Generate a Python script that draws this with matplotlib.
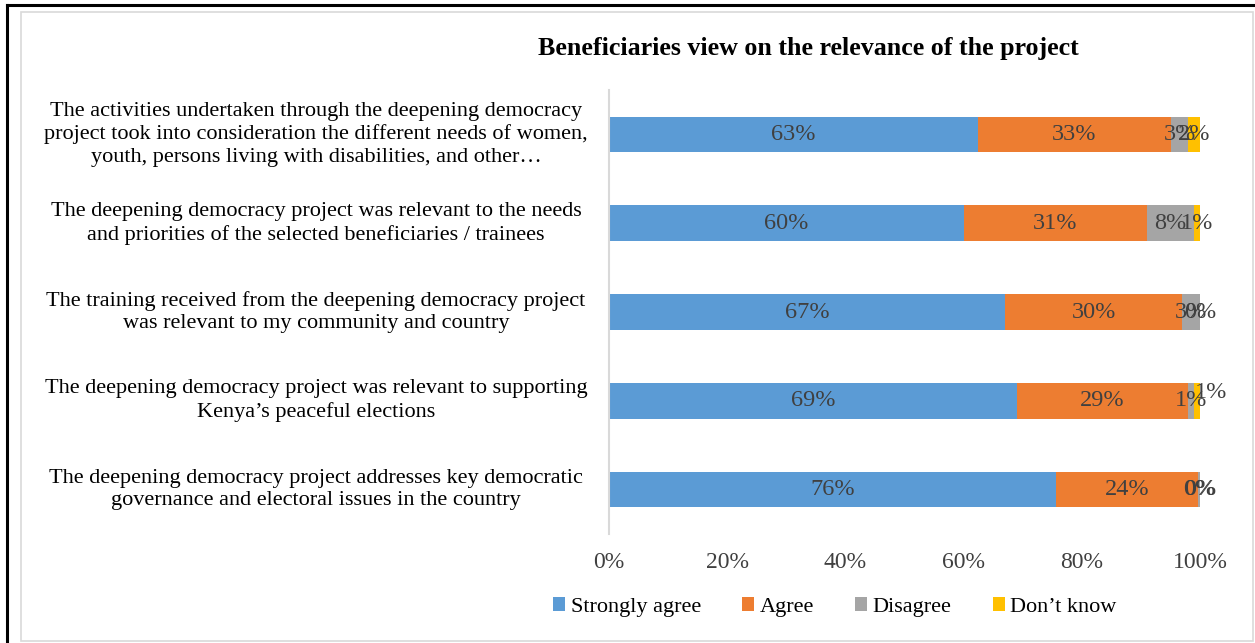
import matplotlib
matplotlib.use("Agg")
import matplotlib.pyplot as plt
from matplotlib.patches import Patch, Rectangle
from matplotlib.lines import Line2D
from matplotlib.transforms import blended_transform_factory

plt.rcParams['font.family'] = ['Liberation Serif', 'DejaVu Serif']

title = "Beneficiaries view on the relevance of the project"

statements = [
    "The activities undertaken through the deepening democracy\n"
    "project took into consideration the different needs of women,\n"
    "youth, persons living with disabilities, and other\u2026",
    "The deepening democracy project was relevant to the needs\n"
    "and priorities of the selected beneficiaries / trainees",
    "The training received from the deepening democracy project\n"
    "was relevant to my community and country",
    "The deepening democracy project was relevant to supporting\n"
    "Kenya\u2019s peaceful elections",
    "The deepening democracy project addresses key democratic\n"
    "governance and electoral issues in the country",
]

series_names = ["Strongly agree", "Agree", "Disagree", "Don\u2019t know"]
strongly_agree = [63, 60, 67, 69, 76]
agree = [33, 31, 30, 29, 24]
disagree = [3, 8, 3, 1, 0.4]
dont_know = [2, 1, 0, 1, 0]

tick_values = [0, 20, 40, 60, 80, 100]

colors = ["#5B9BD5", "#ED7D31", "#A5A5A5", "#FFC000"]

W, H = 1255, 643
fig = plt.figure(figsize=(W / 100, H / 100), dpi=100)

# outer frame and inner chart border
fig.add_artist(Line2D([7 / W, 7 / W], [0, 1 - 5 / H], transform=fig.transFigure,
                      color="black", lw=2.2))
fig.add_artist(Line2D([7 / W, 1], [1 - 5 / H, 1 - 5 / H], transform=fig.transFigure,
                      color="black", lw=2.2))
fig.add_artist(Rectangle((21 / W, 2 / H), (1253 - 21) / W, (641 - 12) / H,
                         transform=fig.transFigure, fill=False,
                         edgecolor="#D9D9D9", lw=1.2))

ax = fig.add_axes([609 / W, 1 - 534 / H, (1200 - 609) / W, (534 - 90) / H])

series = [strongly_agree, agree, disagree, dont_know]
n = len(statements)
totals = [sum(s[i] for s in series) for i in range(n)]
ypos = list(range(n))

lefts = [0.0] * n
for name, vals, col in zip(series_names, series, colors):
    widths = [v / t * 100 for v, t in zip(vals, totals)]
    ax.barh(ypos, widths, left=lefts, height=0.4, color=col, label=name)
    for i, (v, w, l) in enumerate(zip(vals, widths, lefts)):
        x = l + w / 2
        y = i
        if name == series_names[3] and i == 3:
            x += 2.4
            y -= 0.09
        ax.text(x, y, f"{v:.0f}%", ha="center", va="center",
                fontsize=17.5, color="#404040")
    lefts = [l + w for l, w in zip(lefts, widths)]

ax.set_xlim(0, 100)
ax.set_ylim(n - 0.5, -0.5)
ax.set_xticks(tick_values)
ax.set_xticklabels([f"{t}%" for t in tick_values], fontsize=17, color="#404040")
ax.tick_params(axis="x", length=0, pad=13)
ax.set_yticks([])
for side in ["top", "right", "bottom"]:
    ax.spines[side].set_visible(False)
ax.spines["left"].set_color("#D9D9D9")
ax.spines["left"].set_linewidth(1.5)

trans = blended_transform_factory(fig.transFigure, ax.transData)
for i, s in enumerate(statements):
    ax.text(316 / W, i, s, transform=trans, ha="center", va="center",
            multialignment="center", fontsize=16, color="#000000",
            linespacing=1.25)

fig.text(808 / W, 1 - 48 / H, title, ha="center", va="center",
         fontsize=18.7, fontweight="bold")

handles = [Patch(facecolor=c, edgecolor="none") for c in colors]
fig.legend(handles, series_names, loc="center", bbox_to_anchor=(835 / W, 1 - 607 / H),
           ncol=4, frameon=False, fontsize=16, handlelength=0.54, handleheight=0.54,
           handletextpad=0.25, columnspacing=1.85)

fig.savefig("out.png", dpi=100)
